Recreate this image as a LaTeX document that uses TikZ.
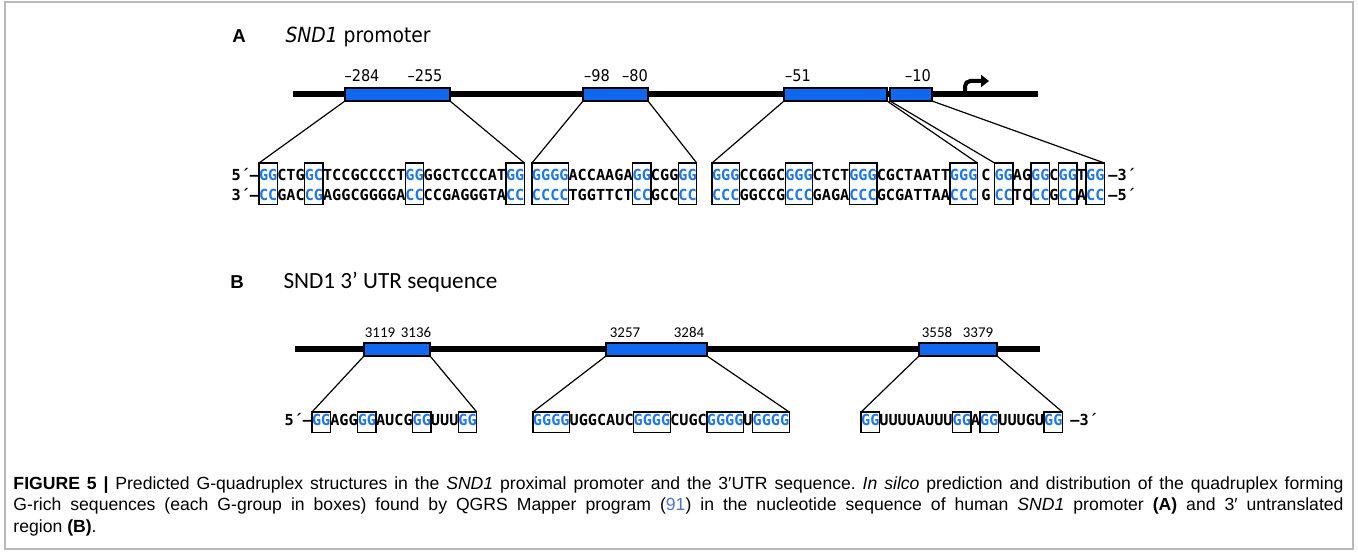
\documentclass[tikz,border=0pt]{standalone}
\usepackage{fontspec}
\setmainfont{Liberation Sans}
\newfontfamily\seqfont{DejaVu Sans Mono}
\newfontfamily\verfont[FakeStretch=0.9]{DejaVu Sans}
\newfontfamily\calfont{Carlito}
\usetikzlibrary{positioning,arrows.meta}

\definecolor{barblue}{RGB}{16,104,240}
\definecolor{seqblue}{RGB}{30,120,235}
\definecolor{refblue}{RGB}{80,115,200}
\definecolor{framegray}{RGB}{185,185,185}

% two rows (5'->3' over 3'->5') and one row of bases
\newcommand{\pr}[2]{\rule{0pt}{13pt}#1\\\rule[-3pt]{0pt}{3pt}#2}
\newcommand{\sr}[1]{\rule[-5.5pt]{0pt}{15.5pt}#1}

\tikzset{every picture/.style={line width=0.75pt}}
\tikzset{
  backbone/.style={line width=4pt},
  bar/.style={draw, fill=barblue, line width=1.1pt, minimum height=9.75pt, inner sep=0pt, outer sep=0pt},
  seq/.style={font=\seqfont\bfseries\fontsize{11.4}{15}\selectfont, inner xsep=0pt, inner ysep=0pt, outer sep=0pt, align=left},
  gbox/.style={seq, draw, line width=1.1pt, text=seqblue},
  link/.style={line width=0.9pt},
  numA/.style={font=\verfont\fontsize{12.1}{14}\selectfont, inner sep=0pt, anchor=base},
  numB/.style={font=\calfont\fontsize{11.2}{14}\selectfont, inner sep=0pt, anchor=base},
  panel/.style={font=\bfseries\fontsize{14}{16}\selectfont, inner sep=0pt, anchor=base},
  tssarrow/.style={line width=3pt, rounded corners=4pt, -{Triangle[length=6pt,width=9pt]}},
  capt/.style={font=\fontsize{13.2}{16.1}\selectfont, text width=997.5pt, align=justify, inner sep=0pt},
}

\begin{document}
\begin{tikzpicture}[x=0.75pt,y=0.75pt,yscale=-1,xscale=1]
\useasboundingbox (0,0) rectangle (1358,552);

%Shape: Rectangle (frame)
\draw[framegray, line width=1.5pt] (5,2) rectangle (1353,549);

% ---------------- A ----------------
% Text Node
\node[panel] (lblA) at (239,43) {A};
% Text Node
\node[font=\verfont\fontsize{15.6}{18}\selectfont, inner sep=0pt, anchor=base west] (ttlA) at (285,43) {\textit{SND1} promoter};

%Straight Lines
\coordinate (aL) at (293,94);
\coordinate (aR) at (1038,94);
\draw[backbone] (aL) -- (aR);

%Shape: Rectangle
\node[bar, minimum width=105*0.75pt] (p1) at (397.5,94.5) {};
\node[bar, minimum width=65*0.75pt] (p2) at (615.5,94.5) {};
\node[bar, minimum width=103*0.75pt] (p3) at (835.5,94.5) {};
\node[bar, minimum width=42*0.75pt] (p4) at (911,94.5) {};

% Text Node
\node[numA] (n284) at (362,82) {–284};
\node[numA] (n255) at (425,82) {–255};
\node[numA] (n98) at (597,82) {–98};
\node[numA] (n80) at (635,82) {–80};
\node[numA] (n51) at (798,82) {–51};
\node[numA] (n10) at (918,82) {–10};

% transcription start
\coordinate (tss0) at (965,94);
\coordinate (tss1) at (989,81);
\draw[tssarrow] (tss0) |- (tss1);

% sequence, first stretch
\node[gbox, anchor=north west] (s1g1) at (259,163) {\pr{GG}{CC}};
\node[seq, right=0pt of s1g1] (s1t1) {\pr{CTG}{GAC}};
\node[gbox, right=0pt of s1t1] (s1g2) {\pr{GC}{CG}};
\node[seq, right=0pt of s1g2] (s1t2) {\pr{TCCGCCCCT}{AGGCGGGGA}};
\node[gbox, right=0pt of s1t2] (s1g3) {\pr{GG}{CC}};
\node[seq, right=0pt of s1g3] (s1t3) {\pr{GGCTCCCAT}{CCGAGGGTA}};
\node[gbox, right=0pt of s1t3] (s1g4) {\pr{GG}{CC}};
\node[seq, anchor=east] (s1end) at (s1g1.west) {\pr{5´–}{3´–}};

% second stretch
\node[gbox, right=5.7pt of s1g4] (s2g1) {\pr{GGGG}{CCCC}};
\node[seq, right=0pt of s2g1] (s2t1) {\pr{ACCAAGA}{TGGTTCT}};
\node[gbox, right=0pt of s2t1] (s2g2) {\pr{GG}{CC}};
\node[seq, right=0pt of s2g2] (s2t2) {\pr{CGG}{GCC}};
\node[gbox, right=0pt of s2t2] (s2g3) {\pr{GG}{CC}};

% third stretch
\node[gbox, right=11.5pt of s2g3] (s3g1) {\pr{GGG}{CCC}};
\node[seq, right=0pt of s3g1] (s3t1) {\pr{CCGGC}{GGCCG}};
\node[gbox, right=0pt of s3t1] (s3g2) {\pr{GGG}{CCC}};
\node[seq, right=0pt of s3g2] (s3t2) {\pr{CTCT}{GAGA}};
\node[gbox, right=0pt of s3t2] (s3g3) {\pr{GGG}{CCC}};
\node[seq, right=0pt of s3g3] (s3t3) {\pr{CGCTAATT}{GCGATTAA}};
\node[gbox, right=0pt of s3t3] (s3g4) {\pr{GGG}{CCC}};
\node[seq, right=3pt of s3g4] (s3c) {\pr{C}{G}};

% fourth stretch
\node[gbox, right=3pt of s3c] (s4g1) {\pr{GG}{CC}};
\node[seq, right=0pt of s4g1] (s4t1) {\pr{AG}{TC}};
\node[gbox, right=0pt of s4t1] (s4g2) {\pr{GG}{CC}};
\node[seq, right=0pt of s4g2] (s4t2) {\pr{C}{G}};
\node[gbox, right=0pt of s4t2] (s4g3) {\pr{GG}{CC}};
\node[seq, right=0pt of s4g3] (s4t3) {\pr{T}{A}};
\node[gbox, right=0pt of s4t3] (s4g4) {\pr{GG}{CC}};
\node[seq, anchor=west] (s4end) at ([xshift=3pt]s4g4.east) {\pr{–3´}{–5´}};

%Straight Lines
\draw[link] (p1.south west) -- (s1g1.north west);
\draw[link] (p1.south east) -- (s1g4.north east);
\draw[link] (p2.south west) -- (s2g1.north west);
\draw[link] (p2.south east) -- (s2g3.north east);
\draw[link] (p3.south west) -- (s3g1.north west);
\draw[link] (p3.south east) -- (s3g4.north east);
\draw[link] (p4.south west) -- (s4g1.north west);
\draw[link] (p4.south east) -- (s4g4.north east);

% ---------------- B ----------------
% Text Node
\node[panel] (lblB) at (237,288) {B};
% Text Node
\node[font=\calfont\fontsize{17.4}{20}\selectfont, inner sep=0pt, anchor=base west] (ttlB) at (283,288) {SND1 3’ UTR sequence};

%Straight Lines
\coordinate (bL) at (295,349);
\coordinate (bR) at (1040,349);
\draw[backbone] (bL) -- (bR);

%Shape: Rectangle
\node[bar, minimum width=66*0.75pt] (q1) at (397,349.5) {};
\node[bar, minimum width=101*0.75pt] (q2) at (656.5,349.5) {};
\node[bar, minimum width=78*0.75pt] (q3) at (958,349.5) {};

% Text Node
\node[numB] (n3119) at (380,337) {3119};
\node[numB] (n3136) at (416,337) {3136};
\node[numB] (n3257) at (625,337) {3257};
\node[numB] (n3284) at (689,337) {3284};
\node[numB] (n3558) at (937,337) {3558};
\node[numB] (n3379) at (978,337) {3379};

% 3'UTR stretches
\node[gbox, anchor=north west] (b1g1) at (312,412) {\sr{GG}};
\node[seq, right=0pt of b1g1] (b1t1) {\sr{AGG}};
\node[gbox, right=0pt of b1t1] (b1g2) {\sr{GG}};
\node[seq, right=0pt of b1g2] (b1t2) {\sr{AUCG}};
\node[gbox, right=0pt of b1t2] (b1g3) {\sr{GG}};
\node[seq, right=0pt of b1g3] (b1t3) {\sr{UUU}};
\node[gbox, right=0pt of b1t3] (b1g4) {\sr{GG}};
\node[seq, anchor=east] (b1end) at (b1g1.west) {\sr{5´–}};

\node[gbox, right=42.2pt of b1g4] (b2g1) {\sr{GGGG}};
\node[seq, right=0pt of b2g1] (b2t1) {\sr{UGGCAUC}};
\node[gbox, right=0pt of b2t1] (b2g2) {\sr{GGGG}};
\node[seq, right=0pt of b2g2] (b2t2) {\sr{CUGC}};
\node[gbox, right=0pt of b2t2] (b2g3) {\sr{GGGG}};
\node[seq, right=0pt of b2g3] (b2t3) {\sr{U}};
\node[gbox, right=0pt of b2t3] (b2g4) {\sr{GGGG}};

\node[gbox, right=53.9pt of b2g4] (b3g1) {\sr{GG}};
\node[seq, right=0pt of b3g1] (b3t1) {\sr{UUUUAUUU}};
\node[gbox, right=0pt of b3t1] (b3g2) {\sr{GG}};
\node[seq, right=0pt of b3g2] (b3t2) {\sr{A}};
\node[gbox, right=0pt of b3t2] (b3g3) {\sr{GG}};
\node[seq, right=0pt of b3g3] (b3t3) {\sr{UUUGU}};
\node[gbox, right=0pt of b3t3] (b3g4) {\sr{GG}};
\node[seq, anchor=west] (b3end) at ([xshift=6pt]b3g4.east) {\sr{–3´}};

%Straight Lines
\draw[link] (q1.south west) -- (b1g1.north west);
\draw[link] (q1.south east) -- (b1g4.north east);
\draw[link] (q2.south west) -- (b2g1.north west);
\draw[link] (q2.south east) -- (b2g4.north east);
\draw[link] (q3.south west) -- (b3g1.north west);
\draw[link] (q3.south east) -- (b3g4.north east);

% ---------------- caption ----------------
% Text Node
\node[capt, anchor=north west] (cap) at (13,476) {\tolerance=9999\frenchspacing\noindent\textbf{FIGURE 5 |} Predicted G-quadruplex structures in the \textit{SND1} proximal promoter and the 3′UTR sequence. \textit{In silco} prediction and distribution of the quadruplex forming\linebreak G-rich sequences (each G-group in boxes) found by QGRS Mapper program (\textcolor{refblue}{91}) in the nucleotide sequence of human \textit{SND1} promoter \textbf{(A)} and 3′ untranslated\linebreak region \textbf{(B)}.};

\end{tikzpicture}
\end{document}
